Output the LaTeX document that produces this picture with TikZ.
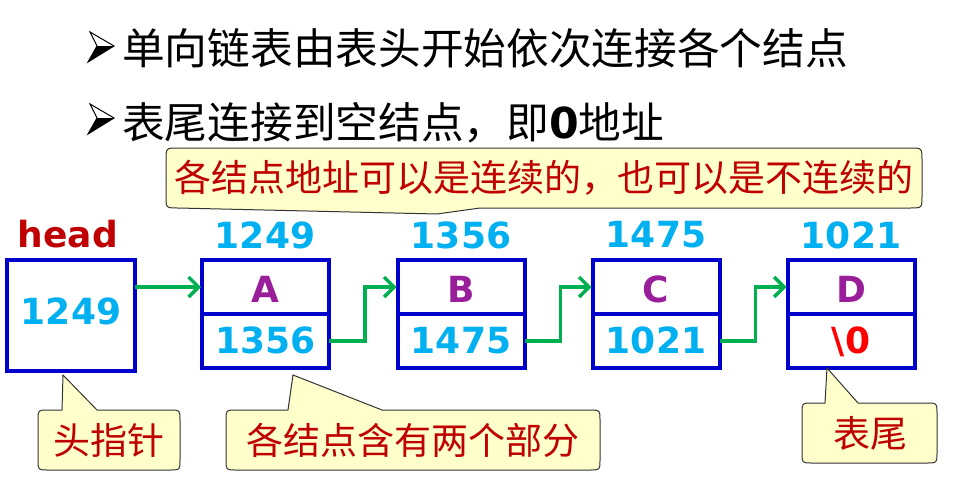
\documentclass[tikz,border=0pt]{standalone}
\usepackage{fontspec}
\setsansfont{DejaVu Sans}
\newfontfamily\cjk{Noto Sans CJK SC}
\usetikzlibrary{arrows.meta,calc}
\definecolor{nodeblue}{RGB}{0,0,204}
\definecolor{addrcyan}{RGB}{0,176,240}
\definecolor{linkgreen}{RGB}{0,176,80}
\definecolor{darkred}{RGB}{192,0,0}
\definecolor{datapurple}{RGB}{153,30,153}
\definecolor{callyellow}{RGB}{255,255,204}
\tikzset{
  cell/.style={draw=nodeblue, line width=4pt, minimum width=127pt, minimum height=54pt,
    inner sep=0pt, outer sep=0pt, font=\sffamily\bfseries\fontsize{36}{40}\selectfont},
  topcell/.style={cell, text=datapurple, text height=30pt, text depth=0pt},
  botcell/.style={cell, text=addrcyan, text height=26pt, text depth=2pt},
  toplabel/.style={inner sep=0pt, font=\sffamily\bfseries\fontsize{36}{40}\selectfont, text=addrcyan},
  link/.style={draw=linkgreen, line width=3.5pt, -{Straight Barb[length=10pt,width=20pt]}},
  callbox/.style={fill=callyellow, draw=black!80, line width=1pt},
  calltext/.style={inner sep=0pt, text=darkred, font=\cjk\fontsize{37}{40}\selectfont},
  titletext/.style={inner sep=0pt, anchor=west, font=\cjk\fontsize{42.7}{46}\selectfont},
  bulletmark/.pic={
    \fill[black] (7,14) -- (24,14) -- (-2,30) -- cycle;
    \draw[black, line width=1pt, line join=miter] (0,0) -- (24,14) -- (-2,30) -- (7,14) -- cycle;
  }
}
\begin{document}
\begin{tikzpicture}[x=1pt,y=-1pt]
\useasboundingbox (0,0) rectangle (970,488);
% title lines
\pic at (90,32) {bulletmark};
\pic at (90,104) {bulletmark};
\node[titletext] (l1) at (122,48) {单向链表由表头开始依次连接各个结点};
\node[titletext] (l2) at (122,123) {表尾连接到空结点，即{\sffamily\bfseries 0}地址};
% top callout
\draw[callbox] (178,148) -- (910,148) .. controls (922,148) .. (922,160) -- (922,196)
  .. controls (922,208) .. (910,208) -- (480,208) -- (437,214) -- (178,208)
  .. controls (166,208) .. (166,196) -- (166,160) .. controls (166,148) .. (178,148) -- cycle;
\node[calltext] (c0) at (544,178) {各结点地址可以是连续的，也可以是不连续的};
% head
\node[inner sep=0pt, font=\sffamily\bfseries\fontsize{36}{40}\selectfont, text=darkred] (hl) at (68,234) {head};
\node[cell, minimum width=128pt, minimum height=111pt, text=addrcyan, text height=26pt, text depth=8pt] (head) at (71,315.5) {1249};
% list nodes
\node[topcell] (a1) at (265.5,287) {A};
\node[botcell, anchor=north] (a2) at (a1.south) {1356};
\node[topcell] (b1) at (461,287) {B};
\node[botcell, anchor=north] (b2) at (b1.south) {1475};
\node[topcell] (c1) at (656,287) {C};
\node[botcell, anchor=north] (c2) at (c1.south) {1021};
\node[topcell] (d1) at (851,287) {D};
\node[botcell, anchor=north, text=red] (d2) at (d1.south) {\textbackslash 0};
% address labels
\node[toplabel] (la) at (265,235) {1249};
\node[toplabel] (lb) at (461,235) {1356};
\node[toplabel] (lc) at (656,235) {1475};
\node[toplabel] (ld) at (851,235) {1021};
% links
\draw[link] (head.east |- a1.west) -- ([xshift=-1pt]a1.west);
\draw[link] (a2.east) -- ++(36,0) |- ([xshift=-1pt]b1.west);
\draw[link] (b2.east) -- ++(36,0) |- ([xshift=-1pt]c1.west);
\draw[link] (c2.east) -- ++(36,0) |- ([xshift=-1pt]d1.west);
% bottom callouts
\draw[callbox] (48,410) -- (62,410) -- (63,375) -- (97,410) -- (170,410) .. controls (180,410) .. (180,420)
  -- (180,460) .. controls (180,470) .. (170,470) -- (48,470) .. controls (38,470) .. (38,460)
  -- (38,420) .. controls (38,410) .. (48,410) -- cycle;
\node[calltext] (c1t) at (109,440) {头指针};
\draw[callbox] (236,410) -- (288,410) -- (293,375) -- (382,410) -- (590,410) .. controls (600,410) .. (600,420)
  -- (600,460) .. controls (600,470) .. (590,470) -- (236,470) .. controls (226,470) .. (226,460)
  -- (226,420) .. controls (226,410) .. (236,410) -- cycle;
\node[calltext] (c2t) at (413,440) {各结点含有两个部分};
\draw[callbox] (812,403) -- (825,403) -- (827,368) -- (858,403) -- (927,403) .. controls (937,403) .. (937,413)
  -- (937,453) .. controls (937,463) .. (927,463) -- (812,463) .. controls (802,463) .. (802,453)
  -- (802,413) .. controls (802,403) .. (812,403) -- cycle;
\node[calltext] (c3t) at (870,433) {表尾};
\end{tikzpicture}
\end{document}
